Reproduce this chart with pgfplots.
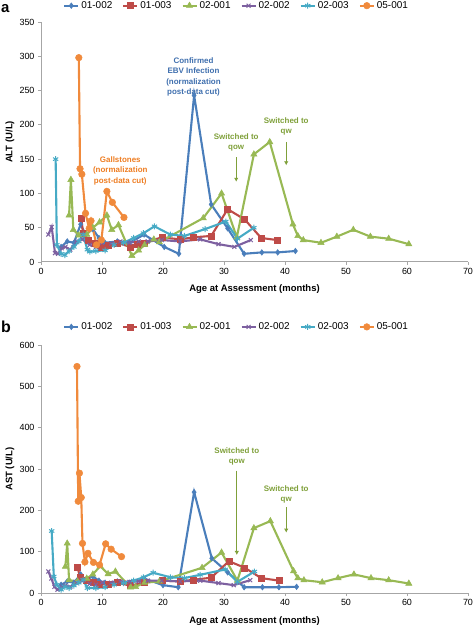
\documentclass[border=0pt]{standalone}
\usepackage{pgfplots}
\pgfplotsset{compat=1.18}
\usepackage{fontspec}
\setmainfont{Liberation Sans}
\usetikzlibrary{arrows.meta}
\definecolor{cA}{HTML}{4A7EBB}
\definecolor{cB}{HTML}{BE4B48}
\definecolor{cC}{HTML}{98B954}
\definecolor{cD}{HTML}{7D60A0}
\definecolor{cE}{HTML}{46AAC5}
\definecolor{cF}{HTML}{F08A3C}
\definecolor{tG}{HTML}{7FA03A}
\definecolor{tF}{HTML}{EE7D22}
\definecolor{tA}{HTML}{3F6FAE}
\definecolor{axgray}{HTML}{A6A6A6}
\tikzset{
 ann/.style={font=\bfseries\fontsize{8}{10.5}\selectfont, align=center},
 arr/.style={-{Latex[length=4bp,width=4.5bp]}, line width=1.3bp, tG},
}
\pgfplotsset{
 myaxis/.style={
  scale only axis, width=427bp,
  xmin=0, xmax=70, xtick={0,10,...,70},
  axis x line*=bottom, axis y line*=left,
  axis line style={-, axgray, line width=1bp},
  tick style={axgray, line width=0.8bp},
  tick align=outside, major tick length=3bp,
  ticklabel style={font=\fontsize{9}{10}\selectfont},
  /pgf/number format/assume math mode=true,
  xlabel={Age at Assessment (months)},
  xlabel style={font=\bfseries\fontsize{9.5}{11}\selectfont, at={(axis description cs:0.5,-0.113)}, anchor=center},
  ylabel style={font=\bfseries\fontsize{9.5}{11}\selectfont, at={(axis description cs:-0.073,0.5)}, anchor=center},
  legend columns=6,
  legend style={draw=none, fill=none, font=\fontsize{10}{12}\selectfont,
     /tikz/every even column/.append style={column sep=8bp}, inner sep=0pt, anchor=center},
  legend image code/.code={\draw[mark repeat=2, mark phase=2] plot coordinates {(0bp,0bp) (7bp,0bp) (14bp,0bp)};},
  every axis plot/.append style={line width=2.1bp},
  clip=false,
 },
 sA/.style={color=cA, mark=diamond*, mark size=2.8bp, mark options={solid, fill=cA, line width=0.5bp}},
 sB/.style={color=cB, mark=square*, mark size=3bp, mark options={solid, fill=cB, line width=0.5bp}},
 sC/.style={color=cC, mark=triangle*, mark size=3.6bp, mark options={solid, fill=cC, line width=0.5bp}},
 sD/.style={color=cD, mark=x, mark size=2.8bp, mark options={solid, line width=1bp}},
 sE/.style={color=cE, mark=asterisk, mark size=3bp, mark options={solid, line width=1bp}},
 sF/.style={color=cF, mark=*, mark size=3.3bp, mark options={solid, fill=cF, line width=0.5bp}},
}
\begin{document}
\begin{tikzpicture}
\useasboundingbox (0,0) rectangle (473bp,626bp);
\node[anchor=base west, inner sep=0pt, font=\bfseries\fontsize{15}{15}\selectfont] at (1bp,613bp) {a};
\node[anchor=base west, inner sep=0pt, font=\bfseries\fontsize{16}{16}\selectfont] at (1bp,293bp) {b};
% ---------------- ALT ----------------
\begin{axis}[myaxis, at={(41bp,364bp)}, anchor=south west, height=240bp,
  ymin=0, ymax=350, ytick={0,50,...,350}, ylabel={ALT (U/L)},
  legend style={at={(axis description cs:0.458,1.068)}}]
\addplot[sA] coordinates {(3.3,22)(4.3,30)(5.4,28)(6.5,55)(7.3,40)(8.5,48)(9.5,35)(10.5,28)(12.5,30)(14.5,28)(16.9,40)(20.2,22)(22.6,12)(25.1,243)(27.9,84)(30.6,49)(33.3,12)(36.2,14)(38.8,14)(41.7,16)};
\addlegendentry{01-002}
\addplot[sB] coordinates {(6.6,64)(6.9,42)(7.8,32)(8.9,27)(9.8,22)(11.0,25)(12.5,28)(14.6,22)(15.7,26)(17.0,28)(19.8,36)(22.8,33)(25.0,36)(27.9,38)(30.6,77)(33.4,62)(36.1,35)(38.7,32)};
\addlegendentry{01-003}
\addplot[sC] coordinates {(4.6,68)(4.9,120)(5.3,47)(6.2,39)(7.5,40)(8.5,50)(9.6,58)(10.8,68)(11.6,47)(12.7,54)(14.9,9)(16.0,17)(17.0,25)(18.5,33)(19.4,29)(26.6,64)(29.6,100)(32.1,36)(34.9,157)(37.5,175)(41.3,55)(42.1,38)(43.0,32)(45.9,28)(48.5,37)(51.2,47)(54.0,37)(57.0,34)(60.3,26)};
\addlegendentry{02-001}
\addplot[sD] coordinates {(1.2,40)(1.75,51)(2.3,13)(2.8,12)(3.4,20)(4.0,22)(4.8,18)(5.8,30)(6.8,33)(8.0,25)(9.0,22)(10.0,28)(11.5,27)(13.0,30)(14.5,28)(16.0,30)(17.5,30)(19.8,32)(22.8,30)(26.1,33)(29.1,26)(31.7,22)(34.4,32)};
\addlegendentry{02-002}
\addplot[sE] coordinates {(2.4,150)(2.6,25)(3.3,12)(3.9,10)(4.6,16)(5.4,22)(6.2,30)(6.9,40)(7.6,18)(8.0,15)(9.0,16)(10.5,17)(12.0,25)(13.5,28)(15.2,35)(16.8,42)(18.6,52)(21.2,40)(23.5,38)(26.9,48)(30.3,59)(32.2,34)(34.9,50)};
\addlegendentry{02-003}
\addplot[sF] coordinates {(6.2,298)(6.4,136)(6.7,128)(7.3,71)(7.9,49)(8.2,60)(9.1,25)(9.9,32)(10.8,103)(11.7,87)(13.6,65)};
\addlegendentry{05-001}
\node[ann, text=tA] at (axis cs:25.0,270) {Confirmed\\EBV Infection\\(normalization\\post-data cut)};
\node[ann, text=tF] at (axis cs:13.0,133) {Gallstones\\(normalization\\post-data cut)};
\node[ann, text=tG] at (axis cs:32.0,174.5) {Switched to\\qow};
\draw[arr] (axis cs:32.0,153) -- (axis cs:32.0,117);
\node[ann, text=tG] at (axis cs:40.2,197.8) {Switched to\\qw};
\draw[arr] (axis cs:40.2,175) -- (axis cs:40.2,141);
\end{axis}
% ---------------- AST ----------------
\begin{axis}[myaxis, at={(41bp,33bp)}, anchor=south west, height=248bp,
  ymin=0, ymax=600, ytick={0,100,...,600}, ylabel={AST (U/L)},
  legend style={at={(axis description cs:0.458,1.073)}}]
\addplot[sA] coordinates {(3.3,20)(4.3,28)(5.4,25)(6.5,45)(7.3,32)(8.5,40)(9.5,30)(10.5,25)(12.5,28)(14.5,25)(16.9,35)(20.0,19)(22.5,14)(25.1,244)(28.0,84)(30.6,50)(33.3,14)(36.3,14)(39.0,14)(41.9,15)};
\addlegendentry{01-002}
\addplot[sB] coordinates {(6.0,62)(6.4,38)(7.5,30)(8.6,25)(9.6,20)(11.0,22)(12.5,25)(14.6,18)(17.0,25)(19.8,30)(22.8,28)(25.0,32)(27.9,37)(30.8,77)(33.4,61)(36.1,36)(39.0,30)};
\addlegendentry{01-003}
\addplot[sC] coordinates {(4.0,64)(4.3,120)(4.6,31)(6.0,28)(7.5,35)(8.5,45)(9.7,65)(11.0,46)(12.2,52)(14.7,14)(15.5,15)(17.0,25)(19.4,28)(26.4,61)(29.6,98)(32.2,30)(34.9,157)(37.6,174)(41.4,53)(42.1,36)(43.1,31)(46.1,26)(48.7,36)(51.3,45)(54.1,36)(57.0,31)(60.3,23)};
\addlegendentry{02-001}
\addplot[sD] coordinates {(1.2,52)(1.7,35)(2.2,15)(2.7,8)(3.4,15)(4.0,18)(4.8,15)(5.8,25)(6.8,30)(8.0,22)(9.0,20)(10.0,25)(11.5,25)(13.0,28)(14.5,27)(16.0,28)(17.5,30)(19.8,30)(22.8,28)(26.1,30)(29.1,24)(31.6,19)(34.3,31)};
\addlegendentry{02-002}
\addplot[sE] coordinates {(1.75,150)(2.1,40)(2.6,20)(3.3,8)(3.9,15)(4.6,12)(5.4,18)(6.2,25)(6.9,32)(7.6,12)(9.0,12)(10.5,14)(12.0,20)(13.5,24)(15.2,30)(16.8,38)(18.4,49)(21.2,38)(23.5,36)(26.1,44)(30.2,57)(32.2,27)(35.0,52)};
\addlegendentry{02-003}
\addplot[sF] coordinates {(5.9,548)(6.1,222)(6.3,290)(6.6,231)(6.8,120)(7.2,75)(7.7,96)(8.6,74)(9.6,68)(10.6,119)(11.5,106)(13.2,88)};
\addlegendentry{05-001}
\node[ann, text=tG] at (axis cs:32.1,330) {Switched to\\qow};
\draw[arr] (axis cs:32.1,296) -- (axis cs:32.1,92);
\node[ann, text=tG] at (axis cs:40.2,239) {Switched to\\qw};
\draw[arr] (axis cs:40.2,207) -- (axis cs:40.2,146);
\end{axis}
\end{tikzpicture}
\end{document}
